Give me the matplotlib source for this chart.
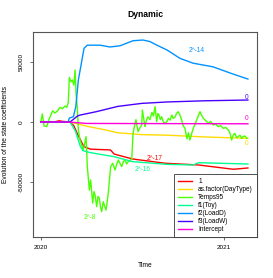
import matplotlib
matplotlib.use("Agg")
import matplotlib.pyplot as plt

plt.rcParams['font.family'] = ['Liberation Sans', 'DejaVu Sans']
plt.rcParams['axes.unicode_minus'] = False

# state coefficients over time (decimal years)
t_one = [2020.0, 2020.08, 2020.10, 2020.12, 2020.16, 2020.18, 2020.20, 2020.22, 2020.235,
         2020.27, 2020.38, 2020.40, 2020.50, 2020.68, 2020.86, 2021.05, 2021.129]
v_one = [0, 300, 1000, 500, 0, -3000, -10000, -16000, -20500,
         -22600, -23300, -26700, -30800, -34400, -35800, -39400, -38300]

t_day = [2020.0, 2020.16, 2020.20, 2020.25, 2020.35, 2020.42, 2020.55, 2020.69, 2020.90, 2021.129]
v_day = [0, 0, -1500, -3500, -6500, -9000, -10500, -11000, -12500, -13600]

t_temp = [2020.0, 2020.009, 2020.018, 2020.033, 2020.045, 2020.065, 2020.076, 2020.087, 2020.097,
          2020.105, 2020.118, 2020.132, 2020.142, 2020.150, 2020.156, 2020.165, 2020.172, 2020.181,
          2020.187, 2020.192, 2020.199, 2020.205, 2020.214, 2020.232, 2020.247, 2020.254, 2020.265,
          2020.272, 2020.283, 2020.290, 2020.296, 2020.305, 2020.312, 2020.319, 2020.326, 2020.332,
          2020.341, 2020.348, 2020.356, 2020.368, 2020.381, 2020.392, 2020.405, 2020.414, 2020.423,
          2020.441, 2020.450, 2020.459, 2020.468, 2020.477, 2020.496, 2020.503, 2020.510, 2020.519,
          2020.530, 2020.540, 2020.550, 2020.554, 2020.561, 2020.568, 2020.576, 2020.584, 2020.595,
          2020.606, 2020.614, 2020.623, 2020.632, 2020.638, 2020.644, 2020.652, 2020.659, 2020.666,
          2020.672, 2020.686, 2020.696, 2020.705, 2020.714, 2020.722, 2020.731, 2020.740, 2020.749,
          2020.758, 2020.768, 2020.776, 2020.786, 2020.797, 2020.805, 2020.813, 2020.820, 2020.828,
          2020.840, 2020.850, 2020.858, 2020.868, 2020.877, 2020.886, 2020.900, 2020.913, 2020.926,
          2020.940, 2020.953, 2020.967, 2020.980, 2020.995, 2021.008, 2021.022, 2021.031, 2021.040,
          2021.049, 2021.058, 2021.067, 2021.076, 2021.086, 2021.095, 2021.104, 2021.113, 2021.125]
v_temp = [0, 6700, -3300, -3800, 2200, 9400, 7500, 8600, 10500,
          12200, 11000, 13300, 12200, 16100, 37200, 33500, 35000, 30800,
          43300, 25000, 13000, -6700, -15000, -23300, -12200, -37200, -56700,
          -48300, -67500, -58000, -60800, -70500, -62000, -63300, -71000, -74700,
          -66400, -70000, -73300, -59400, -37200, -34400, -40000, -35000, -31700,
          -37200, -33000, -31700, -35000, -33000, -31000, -9400, -4000, 2000,
          -8000, -5000, -2500, 10000, 3000, -3900, 1500, 4400, 2000,
          8000, 5000, 12800, 300, 7000, 6000, 2000, 4400, 1000,
          -1000, 0, 3000, 1500, 5800, 3000, 4000, 7000, 8600,
          6000, 1700, -3000, -5300, -14000, -9000, -15000, -11000, -6700,
          -2000, 1700, 5000, 8600, 5500, 3100, 1000, -1100, 500,
          -2500, -1500, -3900, -3000, -5300, -4500, -6700, -9000, -15000,
          -11000, -9400, -13000, -12200, -11000, -13600, -12000, -11700, -13600]

t_toy = [2020.0, 2020.16, 2020.19, 2020.215, 2020.23, 2020.27, 2020.40, 2020.50, 2020.69,
         2020.83, 2020.86, 2021.129]
v_toy = [0, 0, -8000, -20000, -23900, -25500, -28900, -33000, -35300, -35800, -33900, -35000]

t_loadd = [2020.0, 2020.149, 2020.156, 2020.178, 2020.191, 2020.205, 2020.223, 2020.236, 2020.254,
           2020.323, 2020.377, 2020.432, 2020.503, 2020.557, 2020.595, 2020.633, 2020.688, 2020.759,
           2020.830, 2020.938, 2021.047, 2021.129]
v_loadd = [0, 0, 3300, 4400, 12800, 35000, 50300, 61400, 64000,
           64000, 62500, 63500, 67700, 68300, 67000, 64000, 60000, 53000,
           49000, 46000, 40000, 35800]

t_loadw = [2020.0, 2020.16, 2020.18, 2020.20, 2020.215, 2020.30, 2020.42, 2020.55, 2020.69, 2020.90, 2021.129]
v_loadw = [0, 0, 2500, 5000, 5800, 8500, 13000, 15500, 16700, 17700, 18300]

t_int = [2020.0, 2020.15, 2020.25, 2021.129]
v_int = [0, 0, -1200, -1500]

names = ['1', 'as.factor(DayType)', 'Temps95', 'f1(Toy)', 'f2(LoadD)', 'f3(LoadW)', 'Intercept']
colors = ['#FF0000', '#FFDB00', '#49FF00', '#00FF92', '#0092FF', '#4900FF', '#FF00DB']
series = [(t_one, v_one), (t_day, v_day), (t_temp, v_temp), (t_toy, v_toy),
          (t_loadd, v_loadd), (t_loadw, v_loadw), (t_int, v_int)]

# end-of-line annotations
ann_text = ['2^-14', '0', '0', '0', '2^-17', '2^-16', '2^-8']
ann_x = [2020.852, 2021.124, 2021.124, 2021.122, 2020.623, 2020.557, 2020.268]
ann_y = [59200, 20800, 2500, -17500, -30000, -39200, -79200]
ann_col = ['#0092FF', '#4900FF', '#FF00DB', '#FFDB00', '#FF0000', '#00FF92', '#49FF00']

fig = plt.figure(figsize=(2.73, 2.78), dpi=100)
ax = fig.add_axes([0.121, 0.1475, 0.820, 0.7375])

for (t, v), c, n in zip(series, colors, names):
    ax.plot(t, v, color=c, lw=1.0, label=n)

for s, x, y, c in zip(ann_text, ann_x, ann_y, ann_col):
    ax.text(x, y, s, color=c, fontsize=4.7, ha='center', va='center')

ax.set_xlim(2019.958, 2021.178)
ax.set_ylim(-95800, 75000)
ax.set_xticks([2020, 2021])
ax.set_xticklabels(['2020', '2021'])
ax.set_yticks([-50000, 0, 50000])
ax.set_yticklabels(['-50000', '0', '50000'], rotation=90, va='center')

for sp in ax.spines.values():
    sp.set_color('#555555')
    sp.set_linewidth(0.8)
ax.tick_params(length=2.5, width=0.6, color='#555555', labelsize=4.6, pad=3)
ax.tick_params(axis='y', pad=4)

ax.set_title('Dynamic', fontsize=6.2, fontweight='bold', pad=11)
ax.set_xlabel('Time', fontsize=4.8, labelpad=9)
ax.set_ylabel('Evolution of the state coefficients', fontsize=4.8, labelpad=7)

leg = ax.legend(loc='lower right', fontsize=4.7, borderaxespad=0, fancybox=False,
                framealpha=1, edgecolor='#333333', handlelength=2.2, labelspacing=0.15,
                borderpad=0.6, handletextpad=0.9)
leg.get_frame().set_linewidth(0.6)

fig.savefig('out.png', dpi=100)
